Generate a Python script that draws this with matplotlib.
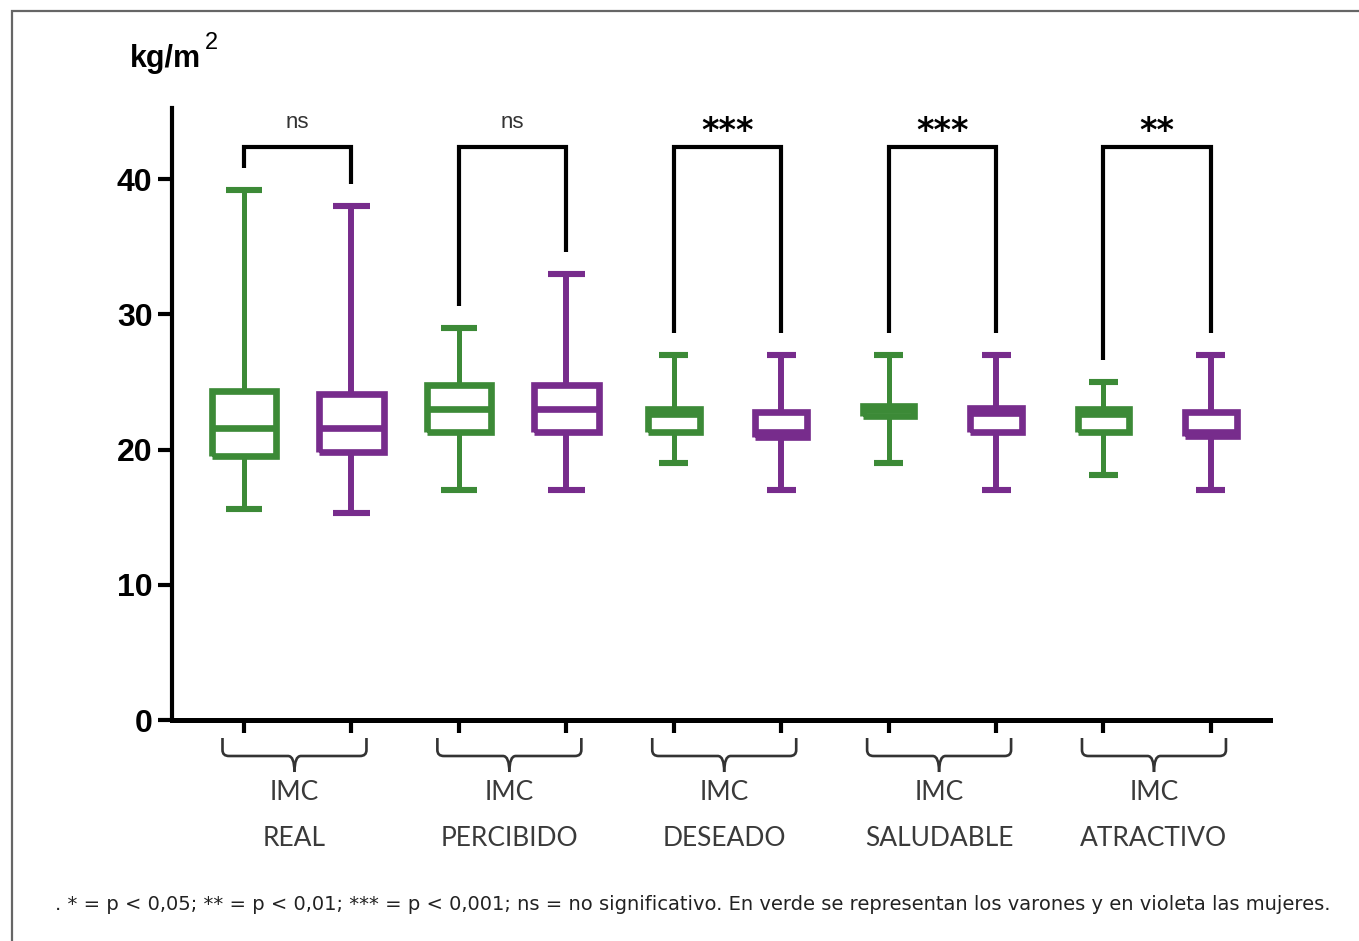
import matplotlib
matplotlib.use("Agg")
import matplotlib.pyplot as plt
from matplotlib.path import Path
from matplotlib.patches import PathPatch
from matplotlib.lines import Line2D

# ---------------- data ----------------
cat_line1 = ["IMC", "IMC", "IMC", "IMC", "IMC"]
cat_line2 = ["REAL", "PERCIBIDO", "DESEADO", "SALUDABLE", "ATRACTIVO"]

# men (green): whisker low, q1, median, q3, whisker high
men_whislo = [15.6, 17.0, 19.0, 19.0, 18.1]
men_q1     = [19.5, 21.3, 21.3, 22.5, 21.3]
men_med    = [21.6, 23.0, 22.6, 22.9, 22.6]
men_q3     = [24.3, 24.8, 23.0, 23.2, 23.0]
men_whishi = [39.2, 29.0, 27.0, 27.0, 25.0]

# women (purple)
wom_whislo = [15.3, 17.0, 17.0, 17.0, 17.0]
wom_q1     = [19.8, 21.3, 20.95, 21.3, 21.0]
wom_med    = [21.6, 23.0, 21.3, 22.7, 21.3]
wom_q3     = [24.1, 24.8, 22.8, 23.1, 22.8]
wom_whishi = [38.0, 33.0, 27.0, 27.0, 27.0]

signif = ["ns", "ns", "***", "***", "**"]
yticks = [0, 10, 20, 30, 40]
caption = (". * = p < 0,05; ** = p < 0,01; *** = p < 0,001; ns = no significativo. "
           "En verde se representan los varones y en violeta las mujeres.")

# ---------------- style ----------------
GREEN = "#3c8a37"
PURPLE = "#772c8c"
W, H = 1359, 941
plt.rcParams["lines.solid_capstyle"] = "butt"
plt.rcParams["lines.solid_joinstyle"] = "miter"

fig = plt.figure(figsize=(W / 100, H / 100), dpi=100)
ax = fig.add_axes([172 / W, 1 - 720 / H, (1270 - 172) / W, (720 - 108) / H])

n = len(cat_line2)
pos_men = [2 * i + 1 for i in range(n)]
pos_wom = [2 * i + 2 for i in range(n)]
box_w = [0.6, 0.6, 0.48, 0.48, 0.48]
cap_w = [0.34, 0.34, 0.27, 0.27, 0.27]


def stats(lo, q1, med, q3, hi):
    return [dict(whislo=a, q1=b, med=c, q3=d, whishi=e, fliers=[])
            for a, b, c, d, e in zip(lo, q1, med, q3, hi)]


for st, pos, col, wlw in [
    (stats(men_whislo, men_q1, men_med, men_q3, men_whishi), pos_men, GREEN, 3.6),
    (stats(wom_whislo, wom_q1, wom_med, wom_q3, wom_whishi), pos_wom, PURPLE, 4.3),
]:
    ax.bxp(st, positions=pos, widths=box_w, capwidths=cap_w, showfliers=False,
           boxprops=dict(color=col, linewidth=4.8),
           whiskerprops=dict(color=col, linewidth=wlw),
           capprops=dict(color=col, linewidth=4.4),
           medianprops=dict(color=col, linewidth=4.8),
           manage_ticks=False)

ax.set_xlim(0.33, 10.55)
ax.set_ylim(0, 45.25)

# significance brackets
ybar = 42.37
gap = 1.6
for i in range(n):
    x1, x2 = pos_men[i], pos_wom[i]
    y1 = men_whishi[i] + gap
    y2 = wom_whishi[i] + gap
    ax.plot([x1, x1, x2, x2], [y1, ybar, ybar, y2], color="black", lw=3.0,
            solid_joinstyle="miter", clip_on=False)
    if signif[i] == "ns":
        ax.text((x1 + x2) / 2, 43.4, "ns", ha="center", va="bottom",
                fontsize=16, color="#333333", family="Liberation Sans")
    else:
        ax.text((x1 + x2) / 2, 42.8, signif[i], ha="center", va="baseline",
                fontsize=24, fontweight="bold", color="black", family="DejaVu Sans")

# axes style
for s in ["top", "right"]:
    ax.spines[s].set_visible(False)
ax.spines["left"].set_linewidth(3.0)
ax.spines["bottom"].set_linewidth(3.6)
ax.set_yticks(yticks)
ax.set_yticklabels([str(v) for v in yticks])
for lab in ax.get_yticklabels():
    lab.set_fontweight("bold")
    lab.set_fontfamily("Liberation Sans")
    lab.set_fontsize(23)
ax.tick_params(axis="y", direction="out", length=10, width=3.0, pad=4, colors="black")
ax.set_xticks(pos_men + pos_wom)
ax.set_xticklabels([])
ax.tick_params(axis="x", direction="out", length=9, width=3.0)

# category braces and labels below axis
trans = ax.get_xaxis_transform()
axh = 720 - 108


def yf(py):
    return (720 - py) / axh


for i in range(n):
    xl = pos_men[i] - 0.2
    xr = pos_wom[i] + 0.14
    xc = (xl + xr) / 2
    rx = 0.06
    ytop, ybot, ystem = yf(738), yf(756), yf(772)
    r = yf(750)
    codes = [Path.MOVETO, Path.LINETO, Path.CURVE3, Path.CURVE3,
             Path.LINETO, Path.CURVE3, Path.CURVE3]
    for xe, sgn in [(xl, 1), (xr, -1)]:
        verts = [(xe, ytop), (xe, r), (xe, ybot), (xe + sgn * rx, ybot),
                 (xc - sgn * rx, ybot), (xc, ybot), (xc, ystem)]
        ax.add_patch(PathPatch(Path(verts, codes), transform=trans, fill=False,
                               lw=1.9, edgecolor="#333333", clip_on=False))
    ax.text(xc, yf(792), cat_line1[i], transform=trans, ha="center", va="center",
            fontsize=19, color="#3a3a3a", family="Lato")
    ax.text(xc, yf(838), cat_line2[i], transform=trans, ha="center", va="center",
            fontsize=19, color="#3a3a3a", family="Lato")

# unit label
fig.text(130 / W, 1 - 67 / H, "kg/m", fontsize=22, fontweight="bold",
         family="Liberation Sans", ha="left", va="baseline")
fig.text(205 / W, 1 - 49 / H, "2", fontsize=17, family="Liberation Sans",
         ha="left", va="baseline")

# caption
fig.text(55 / W, 1 - 905 / H, caption, fontsize=14, family="DejaVu Sans",
         ha="left", va="center", color="#222222")

# frame lines (top and left)
fig.add_artist(Line2D([12 / W, 12 / W, 1], [0, 1 - 11 / H, 1 - 11 / H],
                      transform=fig.transFigure, color="#666666", lw=1.6))

fig.savefig("out.png", dpi=100)
